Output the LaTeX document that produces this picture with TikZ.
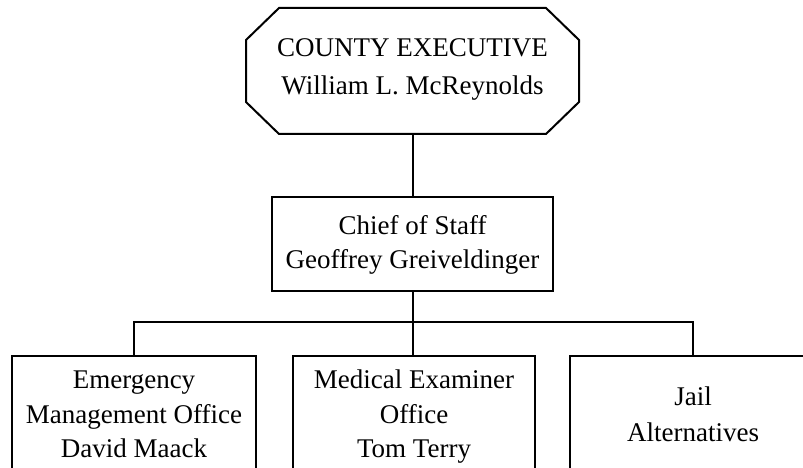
\documentclass[tikz,border=0pt]{standalone}
\usepackage{fontspec}
\setmainfont{Liberation Serif}
\begin{document}
\begin{tikzpicture}[x=1pt,y=-1pt,
  every node/.style={inner sep=0pt,outer sep=0pt},
  frame/.style={draw,line width=2pt},
  unitbox/.style={frame,rectangle,minimum width=#1},
  txt/.style={anchor=base,font=\fontsize{27}{34}\selectfont},
  link/.style={line width=2pt,line join=miter}
]
\clip (0,0) rectangle (803,468);

% executive: octagon drawn round an invisible frame node
\node[minimum width=333pt,minimum height=126pt] (exec) at (412.5,71) {};
\draw[link]
  ([xshift=33pt]exec.north west) -- ([xshift=-33pt]exec.north east)
  -- ([yshift=-32pt]exec.north east) -- ([yshift=32pt]exec.south east)
  -- ([xshift=-33pt]exec.south east) -- ([xshift=33pt]exec.south west)
  -- ([yshift=32pt]exec.south west) -- ([yshift=-32pt]exec.north west)
  -- cycle;

% boxes
\node[unitbox=281pt,minimum height=94pt] (chief) at (412.5,244) {};
\node[unitbox=244pt,minimum height=164pt] (emo) at (134,438) {};
\node[unitbox=242pt,minimum height=164pt] (mex) at (414,438) {};
\node[unitbox=246pt,minimum height=164pt] (jail) at (693,438) {};

% labels
\node[txt] (exec1) at (412.5,57) {COUNTY EXECUTIVE};
\node[txt] (exec2) at (412.5,95) {William L. McReynolds};
\node[txt] (chief1) at (412.5,234) {Chief of Staff};
\node[txt] (chief2) at (412.5,268) {Geoffrey Greiveldinger};
\node[txt] (emo1) at (134,388) {Emergency};
\node[txt] (emo2) at (134,423) {Management Office};
\node[txt] (emo3) at (134,457) {David Maack};
\node[txt] (mex1) at (414,388) {Medical Examiner};
\node[txt] (mex2) at (414,423) {Office};
\node[txt] (mex3) at (414,457) {Tom Terry};
\node[txt] (jail1) at (693,405) {Jail};
\node[txt] (jail2) at (693,441.5) {Alternatives};

% connectors
\coordinate (bus) at (412.5,322);
\draw[link] (exec.south) -- (chief.north);
\draw[link] (chief.south) -- (chief.south |- emo.north);
\draw[link] (emo.north) -- (emo.north |- bus) -- (jail.north |- bus) -- (jail.north);
\end{tikzpicture}
\end{document}
